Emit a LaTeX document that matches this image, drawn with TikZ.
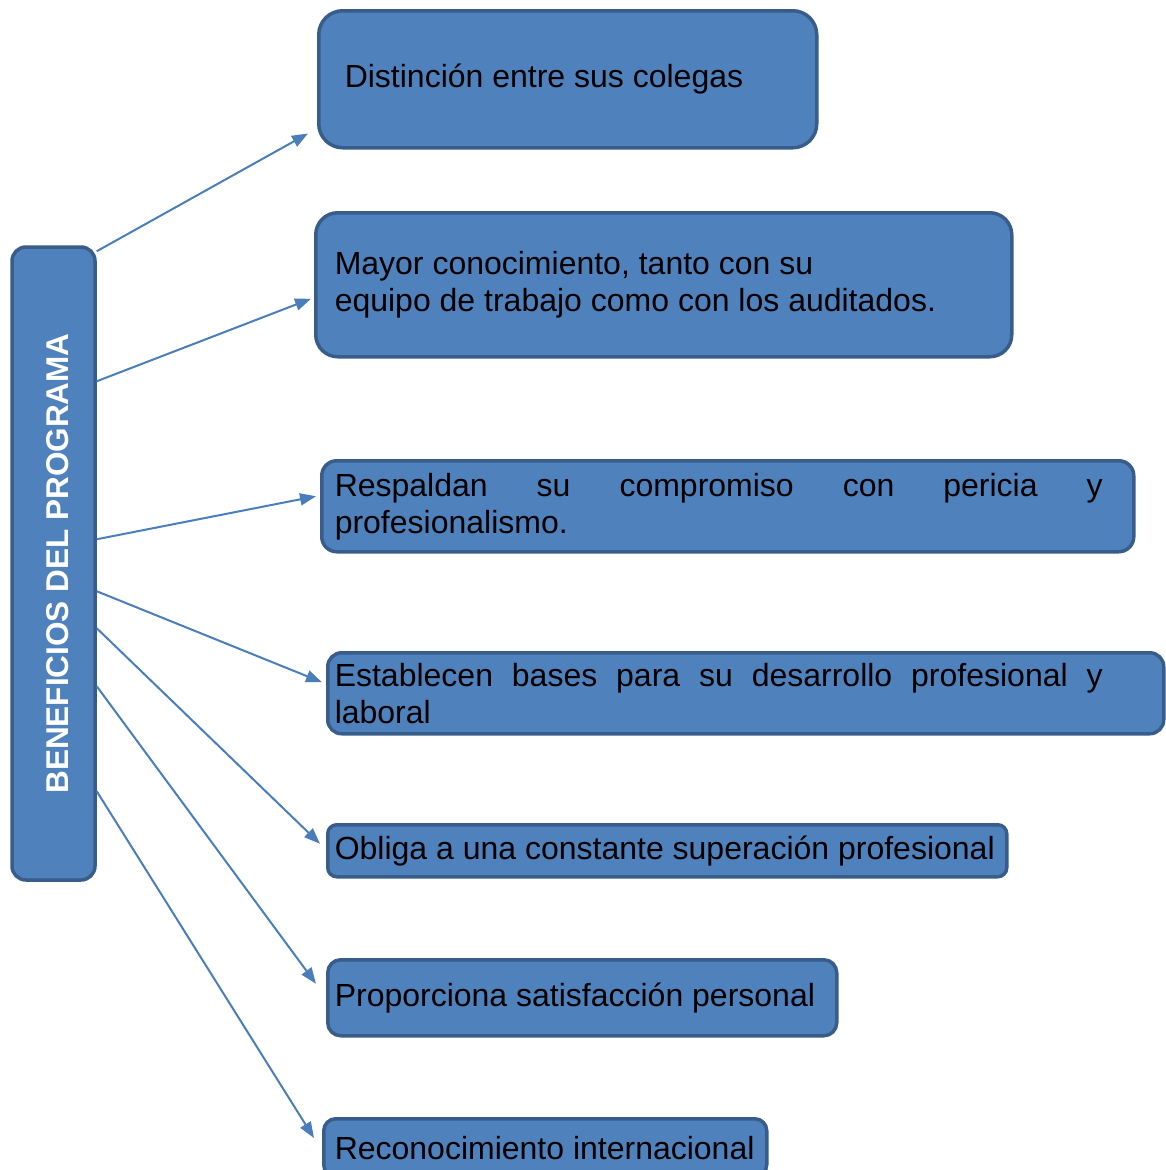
\documentclass[tikz,border=0pt]{standalone}
\usepackage{fontspec}
\setmainfont{Liberation Sans}
\usetikzlibrary{arrows.meta, positioning}
\definecolor{boxfill}{HTML}{4F81BD}
\definecolor{boxline}{HTML}{385D8A}
\definecolor{arrowblue}{HTML}{4A7EBB}
\tolerance=10000
\hyphenpenalty=10000
\begin{document}
\begin{tikzpicture}[x=1pt, y=-1pt,
  box/.style={draw=boxline, fill=boxfill, line width=3.5pt, anchor=north west,
              align=flush left, inner ysep=0pt, font=\fontsize{32}{37}\selectfont},
  titlebox/.style={box, anchor=center, text=white, inner sep=0pt,
                   font=\fontsize{31.5}{37}\selectfont\bfseries},
  arr/.style={-{Triangle[length=16pt, width=12pt]}, draw=arrowblue, line width=2pt}
]
  \useasboundingbox (0,0) rectangle (1166,1170);
  \node[titlebox, rounded corners=14pt, minimum width=83pt, minimum height=633pt]
    (prog) at (53.5,563.5) {\hspace*{8pt}\rotatebox{90}{BENEFICIOS DEL PROGRAMA}};

  \node[box, rounded corners=24pt, minimum width=498pt, minimum height=137pt,
        inner xsep=26pt, text width=446pt] (dist) at (317,9)
        {Distinción entre sus colegas};
  \node[box, rounded corners=22pt, minimum width=696pt, minimum height=144pt,
        inner xsep=19pt, text width=658pt] (conoc) at (314,211)
        {Mayor conocimiento, tanto con su\\equipo de trabajo como con los auditados.};
  \node[box, rounded corners=15pt, minimum width=812pt, minimum height=91pt,
        inner xsep=13pt, text width=786pt] (resp) at (320,459)
        {\parbox{768pt}{Respaldan su compromiso con pericia y profesionalismo.}};
  \node[box, rounded corners=14pt, minimum width=836pt, minimum height=81pt,
        inner xsep=7pt, text width=822pt] (estab) at (326,651)
        {\parbox{768pt}{Establecen bases para su desarrollo profesional y laboral}};
  \node[box, rounded corners=9pt, minimum width=679pt, minimum height=52pt,
        inner xsep=7pt, text width=665pt] (oblig) at (326,823)
        {Obliga a una constante superación profesional};
  \node[box, rounded corners=13pt, minimum width=509pt, minimum height=76pt,
        inner xsep=7pt, text width=495pt] (satis) at (326,958)
        {Proporciona satisfacción personal};
  \node[box, rounded corners=12pt, minimum width=443pt, minimum height=58pt,
        inner xsep=11pt, text width=421pt] (recon) at (322,1117)
        {Reconocimiento internacional};

  \draw[arr] ([yshift=-6]prog.north east) -- ([xshift=-9, yshift=16]dist.south west);
  \draw[arr] ([yshift=-136]prog.north east) -- ([xshift=-3, yshift=-14]conoc.west);
  \draw[arr] ([yshift=-294]prog.north east) -- ([xshift=-4, yshift=10]resp.west);
  \draw[arr] ([yshift=-346]prog.north east) -- ([xshift=-4, yshift=11]estab.west);
  \draw[arr] ([yshift=-383]prog.north east) -- ([xshift=-6, yshift=7]oblig.west);
  \draw[arr] ([yshift=-441]prog.north east) -- ([xshift=-10, yshift=14]satis.west);
  \draw[arr] ([yshift=-546]prog.north east) -- ([xshift=-8, yshift=-21]recon.north west);
\end{tikzpicture}
\end{document}
